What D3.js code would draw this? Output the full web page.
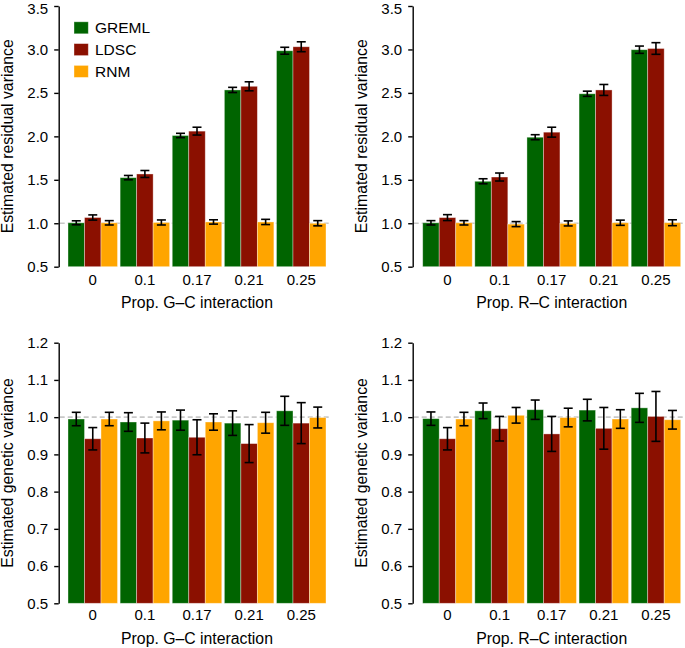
<!DOCTYPE html>
<html>
<head>
<meta charset="utf-8">
<script src="https://cdn.jsdelivr.net/npm/d3@7"></script>
<style>
  html, body { margin: 0; padding: 0; background: #fff; }
  svg { display: block; font-family: "Liberation Sans", Arial, Helvetica, sans-serif; }
</style>
</head>
<body>
<svg id="chart" width="685" height="648"></svg>
<script>
// ---------- data ----------
const categories = ["0", "0.1", "0.17", "0.21", "0.25"];
const seriesNames = ["GREML", "LDSC", "RNM"];
const seriesColors = ["#006400", "#8B1000", "#FFA500"];

// Residual variance, G–C interaction
const resGC_GREML = [1.005, 1.525, 2.010, 2.534, 2.985];
const resGC_LDSC  = [1.066, 1.567, 2.060, 2.576, 3.031];
const resGC_RNM   = [1.005, 1.009, 1.015, 1.015, 1.000];
const resGC_GREML_se = [0.023, 0.025, 0.025, 0.030, 0.040];
const resGC_LDSC_se  = [0.030, 0.040, 0.045, 0.052, 0.057];
const resGC_RNM_se   = [0.025, 0.029, 0.025, 0.030, 0.030];

// Residual variance, R–C interaction
const resRC_GREML = [1.005, 1.483, 1.990, 2.490, 2.997];
const resRC_LDSC  = [1.065, 1.532, 2.048, 2.534, 3.011];
const resRC_RNM   = [1.005, 0.990, 0.998, 1.006, 1.006];
const resRC_GREML_se = [0.025, 0.029, 0.029, 0.030, 0.042];
const resRC_LDSC_se  = [0.034, 0.046, 0.057, 0.063, 0.067];
const resRC_RNM_se   = [0.025, 0.029, 0.029, 0.030, 0.034];

// Genetic variance, G–C interaction
const genGC_GREML = [0.995, 0.987, 0.992, 0.984, 1.017];
const genGC_LDSC  = [0.942, 0.944, 0.946, 0.929, 0.984];
const genGC_RNM   = [0.995, 0.990, 0.987, 0.985, 0.999];
const genGC_GREML_se = [0.018, 0.025, 0.027, 0.033, 0.039];
const genGC_LDSC_se  = [0.030, 0.040, 0.047, 0.051, 0.055];
const genGC_RNM_se   = [0.018, 0.024, 0.022, 0.028, 0.028];

// Genetic variance, R–C interaction
const genRC_GREML = [0.996, 1.017, 1.020, 1.019, 1.025];
const genRC_LDSC  = [0.942, 0.969, 0.955, 0.970, 1.002];
const genRC_RNM   = [0.995, 1.005, 0.999, 0.995, 0.993];
const genRC_GREML_se = [0.018, 0.021, 0.026, 0.029, 0.039];
const genRC_LDSC_se  = [0.030, 0.033, 0.047, 0.056, 0.067];
const genRC_RNM_se   = [0.018, 0.021, 0.025, 0.025, 0.025];

const residTicks  = [0.5, 1.0, 1.5, 2.0, 2.5, 3.0, 3.5];
const geneticTicks = [0.5, 0.6, 0.7, 0.8, 0.9, 1.0, 1.1, 1.2];

// ---------- drawing ----------
const svg = d3.select("#chart");

function panel(opts) {
  const g = svg.append("g");
  const x = d3.scaleBand().domain(categories)
    .range([opts.x0, opts.x1]).paddingInner(0.05).paddingOuter(0.025);
  const xs = d3.scaleBand().domain(seriesNames).range([0, x.bandwidth()]).padding(0);
  const y = d3.scaleLinear().domain(opts.domain).range([opts.yBottom, opts.yTop]);

  // reference line at 1
  g.append("line")
    .attr("x1", opts.axisX + 1).attr("x2", opts.lineEnd)
    .attr("y1", y(1)).attr("y2", y(1))
    .attr("stroke", "#c8c8c8").attr("stroke-width", 1.6)
    .attr("stroke-dasharray", "5,3");

  const rows = [];
  categories.forEach((c, i) => {
    seriesNames.forEach((s, j) => {
      rows.push({ cat: c, ser: s, color: seriesColors[j], v: opts.values[j][i], se: opts.ses[j][i] });
    });
  });

  g.selectAll("rect.bar").data(rows).join("rect")
    .attr("class", "bar")
    .attr("x", d => x(d.cat) + xs(d.ser))
    .attr("width", xs.bandwidth())
    .attr("y", d => y(d.v))
    .attr("height", d => y(opts.domain[0]) - y(d.v))
    .attr("fill", d => d.color)
    .attr("stroke", "rgba(255,255,255,0.45)")
    .attr("stroke-width", 0.8);

  // error bars
  const cap = 4.5;
  const eb = g.selectAll("g.eb").data(rows).join("g").attr("class", "eb")
    .attr("stroke", "#000").attr("stroke-width", 1.6);
  eb.append("line")
    .attr("x1", d => x(d.cat) + xs(d.ser) + xs.bandwidth() / 2)
    .attr("x2", d => x(d.cat) + xs(d.ser) + xs.bandwidth() / 2)
    .attr("y1", d => y(d.v - d.se)).attr("y2", d => y(d.v + d.se));
  eb.append("line")
    .attr("x1", d => x(d.cat) + xs(d.ser) + xs.bandwidth() / 2 - cap)
    .attr("x2", d => x(d.cat) + xs(d.ser) + xs.bandwidth() / 2 + cap)
    .attr("y1", d => y(d.v + d.se)).attr("y2", d => y(d.v + d.se));
  eb.append("line")
    .attr("x1", d => x(d.cat) + xs(d.ser) + xs.bandwidth() / 2 - cap)
    .attr("x2", d => x(d.cat) + xs(d.ser) + xs.bandwidth() / 2 + cap)
    .attr("y1", d => y(d.v - d.se)).attr("y2", d => y(d.v - d.se));

  // y axis
  const ya = g.append("g").attr("transform", `translate(${opts.axisX},0)`)
    .call(d3.axisLeft(y).tickValues(opts.ticks).tickFormat(d3.format(".1f"))
      .tickSizeOuter(0).tickSizeInner(4.5).tickPadding(6));
  ya.select(".domain").attr("stroke-width", 1.4);
  ya.selectAll(".tick line").attr("stroke-width", 1.4);
  ya.selectAll(".tick text").attr("font-size", 15).attr("fill", "#000")
    .attr("font-family", "Liberation Sans, Arial, sans-serif")
    .attr("y", d => (d === opts.domain[1] && opts.topNudge) ? opts.topNudge : 0);

  // x axis labels
  const xa = g.append("g").attr("transform", `translate(0,${opts.yBottom})`)
    .call(d3.axisBottom(x).tickSize(0));
  xa.select(".domain").remove();
  xa.selectAll(".tick text").attr("font-size", 15).attr("fill", "#000")
    .attr("dy", null).attr("y", opts.xLabelOffset)
    .attr("font-family", "Liberation Sans, Arial, sans-serif");

  // x title
  g.append("text")
    .attr("x", (x.range()[0] + x.range()[1]) / 2)
    .attr("y", opts.xTitleY)
    .attr("text-anchor", "middle").attr("font-size", 15.8)
    .text(opts.xTitle);

  // y title
  g.append("text")
    .attr("transform", `translate(${opts.axisX - 46},${(opts.yTop + opts.yBottom) / 2}) rotate(-90)`)
    .attr("text-anchor", "middle").attr("font-size", 15.8)
    .text(opts.yTitle);

  if (opts.legend) {
    const lg = g.append("g");
    seriesNames.forEach((s, j) => {
      const cy = 27.8 + j * 21.8;
      lg.append("rect").attr("x", 74).attr("y", cy - 6).attr("width", 14.3).attr("height", 12)
        .attr("fill", seriesColors[j]).attr("stroke", "rgba(255,255,255,0.45)").attr("stroke-width", 0.8);
      lg.append("text").attr("x", 95).attr("y", cy + 5.6).attr("font-size", 15.5).text(s);
    });
  }
}

panel({
  x0: 66.7, x1: 327.3, axisX: 58.7, lineEnd: 331,
  domain: [0.5, 3.5], yBottom: 266.7, yTop: 6, ticks: residTicks, topNudge: 3,
  values: [resGC_GREML, resGC_LDSC, resGC_RNM],
  ses: [resGC_GREML_se, resGC_LDSC_se, resGC_RNM_se],
  xLabelOffset: 18.5, xTitleY: 307.5,
  xTitle: "Prop. G\u2013C interaction", yTitle: "Estimated residual variance",
  legend: true
});
panel({
  x0: 421.4, x1: 682, axisX: 412.7, lineEnd: 685,
  domain: [0.5, 3.5], yBottom: 266.7, yTop: 6, ticks: residTicks, topNudge: 3,
  values: [resRC_GREML, resRC_LDSC, resRC_RNM],
  ses: [resRC_GREML_se, resRC_LDSC_se, resRC_RNM_se],
  xLabelOffset: 18.5, xTitleY: 307.5,
  xTitle: "Prop. R\u2013C interaction", yTitle: "Estimated residual variance",
  legend: false
});
panel({
  x0: 66.7, x1: 327.3, axisX: 58.7, lineEnd: 331,
  domain: [0.5, 1.2], yBottom: 603.3, yTop: 342.7, ticks: geneticTicks,
  values: [genGC_GREML, genGC_LDSC, genGC_RNM],
  ses: [genGC_GREML_se, genGC_LDSC_se, genGC_RNM_se],
  xLabelOffset: 17, xTitleY: 644,
  xTitle: "Prop. G\u2013C interaction", yTitle: "Estimated genetic variance",
  legend: false
});
panel({
  x0: 421.4, x1: 682, axisX: 412.7, lineEnd: 685,
  domain: [0.5, 1.2], yBottom: 603.3, yTop: 342.7, ticks: geneticTicks,
  values: [genRC_GREML, genRC_LDSC, genRC_RNM],
  ses: [genRC_GREML_se, genRC_LDSC_se, genRC_RNM_se],
  xLabelOffset: 17, xTitleY: 644,
  xTitle: "Prop. R\u2013C interaction", yTitle: "Estimated genetic variance",
  legend: false
});
</script>
</body>
</html>
